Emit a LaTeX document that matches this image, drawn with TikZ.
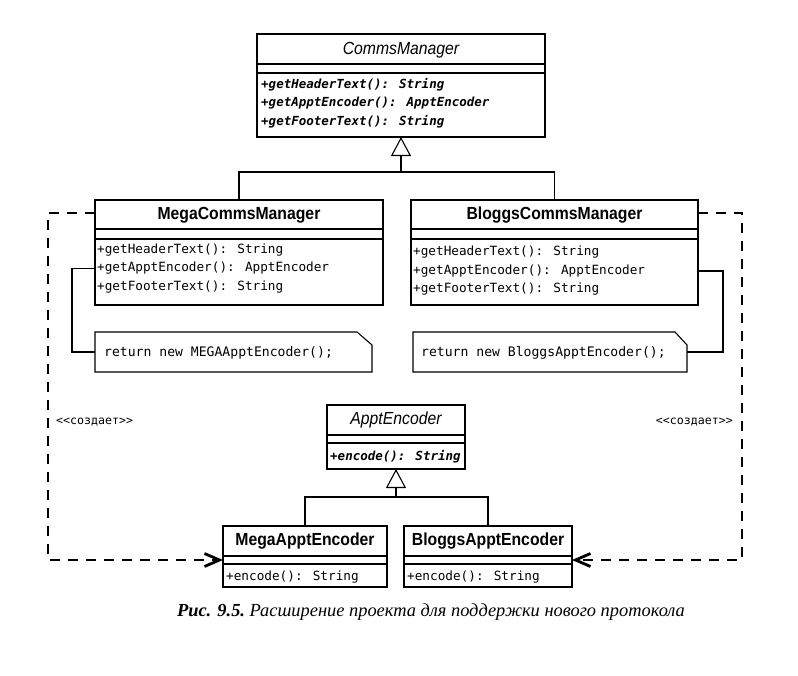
\documentclass[tikz,border=0pt]{standalone}
\usepackage{fontspec}
\setmainfont{Liberation Serif}
\newfontfamily\namefont[FakeStretch=0.9]{Liberation Sans}
\newfontfamily\codefont{DejaVu Sans Mono}
\usetikzlibrary{arrows.meta}
\tikzset{
  classbox/.style={draw, line width=1.1pt, anchor=north west, inner sep=0pt, outer sep=0pt},
  boxline/.style={line width=1.1pt},
  cname/.style={font=\namefont\bfseries\fontsize{17.5}{20}\selectfont, inner sep=0pt},
  aname/.style={font=\namefont\itshape\fontsize{17.5}{20}\selectfont, inner sep=0pt},
  meth/.style={font=\codefont\fontsize{12.7}{15}\selectfont, anchor=west, inner sep=0pt},
  ameth/.style={font=\codefont\bfseries\itshape\fontsize{12.5}{15}\selectfont, anchor=west, inner sep=0pt},
  notetext/.style={font=\codefont\fontsize{13.1}{15}\selectfont, anchor=west, inner sep=0pt},
  notebox/.style={anchor=north west, inner sep=0pt, outer sep=0pt},
  lbl/.style={font=\codefont\fontsize{11.6}{14}\selectfont, inner sep=0pt},
  conn/.style={line width=1.1pt},
  inh/.style={line width=1.1pt, -{Triangle[open, length=19pt, width=20pt, line width=1.1pt]}},
  dep/.style={line width=2.8pt, dash pattern=on 10pt off 8pt, -{Straight Barb[length=15pt, width=13pt, line width=2.8pt]}},
}
\begin{document}
\begin{tikzpicture}[x=1pt, y=-1pt]
\useasboundingbox (0,0) rectangle (798,675);

% CommsManager
\node[classbox, minimum width=288pt, minimum height=103pt] (cm) at (257,34) {};
\draw[boxline] (257,64) -- (545,64);
\draw[boxline] (257,73) -- (545,73);
\node[aname] (cmn) at (401,50) {CommsManager};
\node[ameth] (cm1) at (261,85) {+getHeaderText(): String};
\node[ameth] (cm2) at (261,103.5) {+getApptEncoder(): ApptEncoder};
\node[ameth] (cm3) at (261,122) {+getFooterText(): String};

% MegaCommsManager
\node[classbox, minimum width=288pt, minimum height=105pt] (mega) at (95,200) {};
\draw[boxline] (95,229) -- (383,229);
\draw[boxline] (95,239) -- (383,239);
\node[cname] (megan) at (239,215) {MegaCommsManager};
\node[meth] (mr1) at (97,250) {+getHeaderText(): String};
\node[meth] (mr2) at (97,268.5) {+getApptEncoder(): ApptEncoder};
\node[meth] (mr3) at (97,287) {+getFooterText(): String};

% BloggsCommsManager
\node[classbox, minimum width=287pt, minimum height=105pt] (bloggs) at (411,200) {};
\draw[boxline] (411,229) -- (698,229);
\draw[boxline] (411,239) -- (698,239);
\node[cname] (bloggsn) at (554.5,215) {BloggsCommsManager};
\node[meth] (br1) at (413,252) {+getHeaderText(): String};
\node[meth] (br2) at (413,271) {+getApptEncoder(): ApptEncoder};
\node[meth] (br3) at (413,289.5) {+getFooterText(): String};

% inheritance to CommsManager
\coordinate (cbar) at (401,172);
\draw[conn] (mega.north) |- (cbar) -| (bloggs.north);
\draw[inh] (cbar) -- (cm.south);

% notes
\node[notebox, minimum width=277pt, minimum height=40pt] (nm) at (95,332) {};
\draw[boxline] (nm.north west) -- ([xshift=-15pt]nm.north east) -- ([yshift=-13pt]nm.north east) -- (nm.south east) -- (nm.south west) -- cycle;
\node[notetext] (nmt) at (104,353) {return new MEGAApptEncoder();};

\node[notebox, minimum width=274pt, minimum height=40pt] (nb) at (413,332) {};
\draw[boxline] (nb.north west) -- ([xshift=-12pt]nb.north east) -- ([yshift=-13pt]nb.north east) -- (nb.south east) -- (nb.south west) -- cycle;
\node[notetext] (nbt) at (421,353) {return new BloggsApptEncoder();};

\coordinate (nmc) at (72,268.5);
\draw[conn] (mega.west |- mr2) -- (nmc) |- (nm.west);
\coordinate (nbc) at (723,271);
\draw[conn] (bloggs.east |- br2) -- (nbc) |- (nb.east);

% ApptEncoder
\node[classbox, minimum width=138pt, minimum height=64pt] (ae) at (327,405) {};
\draw[boxline] (327,435) -- (465,435);
\draw[boxline] (327,443) -- (465,443);
\node[aname] (aen) at (396,420) {ApptEncoder};
\node[ameth] (ae1) at (330,457) {+encode(): String};

% MegaApptEncoder
\node[classbox, minimum width=164pt, minimum height=61pt] (mae) at (223,526) {};
\draw[boxline] (223,556) -- (387,556);
\draw[boxline] (223,564) -- (387,564);
\node[cname] (maen) at (305,541) {MegaApptEncoder};
\node[meth] (mae1) at (226,577) {+encode(): String};

% BloggsApptEncoder
\node[classbox, minimum width=168pt, minimum height=61pt] (bae) at (404,526) {};
\draw[boxline] (404,556) -- (572,556);
\draw[boxline] (404,564) -- (572,564);
\node[cname] (baen) at (488,541) {BloggsApptEncoder};
\node[meth] (bae1) at (407,577) {+encode(): String};

% inheritance to ApptEncoder
\coordinate (abar) at (396,497);
\draw[conn] (mae.north) |- (abar) -| (bae.north);
\draw[inh] (abar) -- (ae.south);

% dependencies
\coordinate (dl1) at (48,213);
\coordinate (dl2) at (48,560);
\draw[dep] (mega.west |- dl1) -- (dl1) -- (dl2) -- (mae.west |- dl2);
\coordinate (dr1) at (742,213);
\coordinate (dr2) at (742,560);
\draw[dep] (bloggs.east |- dr1) -- (dr1) -- (dr2) -- (bae.east |- dr2);

\node[lbl, anchor=west] (ll) at (56,422) {<<создает>>};
\node[lbl, anchor=east] (rl) at (733,422) {<<создает>>};

% caption
\node[font=\fontsize{18.4}{22}\selectfont, inner sep=0pt] (cap) at (431,612)
  {\bfseries\itshape Рис. 9.5.\ \mdseries Расширение проекта для поддержки нового протокола};
\end{tikzpicture}
\end{document}
